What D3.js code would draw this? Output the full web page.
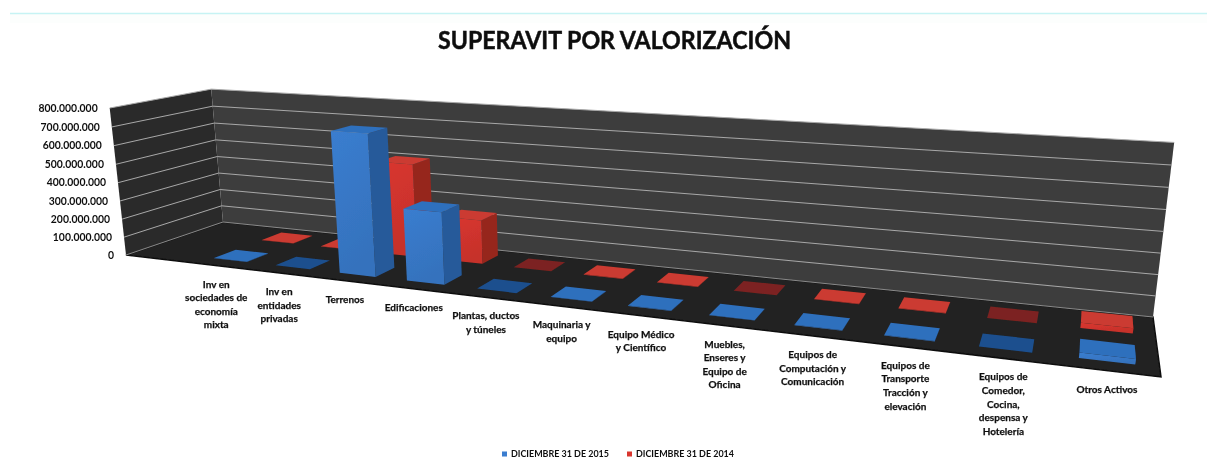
<!DOCTYPE html>
<html><head><meta charset="utf-8">
<script src="https://cdn.jsdelivr.net/npm/d3@7/dist/d3.min.js"></script>
<style>html,body{margin:0;padding:0;background:#fff}svg{display:block}text{font-family:Lato,"Open Sans",sans-serif;fill:#111}</style>
</head><body><svg id="c" width="1207" height="466"></svg>
<script>
const categories = [
 ["Inv en","sociedades de","economía","mixta"],
 ["Inv en","entidades","privadas"],
 ["Terrenos"],
 ["Edificaciones"],
 ["Plantas, ductos","y túneles"],
 ["Maquinaria y","equipo"],
 ["Equipo Médico","y Científico"],
 ["Muebles,","Enseres y","Equipo de","Oficina"],
 ["Equipos de","Computación y","Comunicación"],
 ["Equipos de","Transporte","Tracción y","elevación"],
 ["Equipos de","Comedor,","Cocina,","despensa y","Hotelería"],
 ["Otros Activos"]
];
const seriesNames = ["DICIEMBRE 31 DE 2015","DICIEMBRE 31 DE 2014"];
const values2015 = [2000000,0,735000000,370000000,0,2000000,2000000,2000000,2000000,2000000,0,24000000];
const values2014 = [2000000,2000000,505000000,235000000,0,2000000,2000000,0,2000000,2000000,0,24000000];
const tickValues = [0,100000000,200000000,300000000,400000000,500000000,600000000,700000000,800000000];
const titleText = "SUPERAVIT POR VALORIZACIÓN";

const palettes = [
 {front:"#3a7dcf",side:"#265a9a",top:"#2f6fbd",flat:"#1e4f8e"},
 {front:"#d9362f",side:"#96261f",top:"#cb3a30",flat:"#7c2120"}
];

// 3D frame: picture positions of the chart box corners
function solve(A,b){
  const n=b.length,M=A.map((r,i)=>[...r,b[i]]);
  for(let i=0;i<n;i++){
    let p=i;for(let r=i+1;r<n;r++)if(Math.abs(M[r][i])>Math.abs(M[p][i]))p=r;
    [M[i],M[p]]=[M[p],M[i]];
    for(let r=0;r<n;r++){if(r===i)continue;const f=M[r][i]/M[i][i];for(let c=i;c<=n;c++)M[r][c]-=f*M[i][c];}
  }
  return M.map((r,i)=>r[n]/r[i]);
}
const F={fl:[126,255],fr:[1161,377],br:[1153,317],bl:[223,222]};
const T={fl:[109,108],bl:[212,88],br:[1174,144]};
const sx=F.fl[0]-F.fr[0]+F.br[0]-F.bl[0], sy=F.fl[1]-F.fr[1]+F.br[1]-F.bl[1];
const dx1=F.fr[0]-F.br[0],dx2=F.bl[0]-F.br[0],dy1=F.fr[1]-F.br[1],dy2=F.bl[1]-F.br[1];
const det=dx1*dy2-dx2*dy1;
const g=(sx*dy2-dx2*sy)/det, hh=(dx1*sy-sx*dy1)/det;
const ax=[F.fl[0],F.fr[0]-F.fl[0]+g*F.fr[0],F.bl[0]-F.fl[0]+hh*F.bl[0]];
const ay=[F.fl[1],F.fr[1]-F.fl[1]+g*F.fr[1],F.bl[1]-F.fl[1]+hh*F.bl[1]];
const calib=[[0,0,T.fl],[0,1,T.bl],[1,1,T.br]];
const Rows=[],Rhs=[];
calib.forEach(([u,v,p])=>{
  const w=1+g*u+hh*v;
  Rows.push([1,0,-p[0]]);Rhs.push(p[0]*w-(ax[0]+ax[1]*u+ax[2]*v));
  Rows.push([0,1,-p[1]]);Rhs.push(p[1]*w-(ay[0]+ay[1]*u+ay[2]*v));
});
const AtA=[0,1,2].map(i=>[0,1,2].map(j=>d3.sum(Rows,r=>r[i]*r[j])));
const Atb=[0,1,2].map(i=>d3.sum(Rows,(r,k)=>r[i]*Rhs[k]));
const [Dx,Dy,K]=solve(AtA,Atb);
function proj(u,v,h){
  const w=1+g*u+hh*v+K*h;
  return [(ax[0]+ax[1]*u+ax[2]*v+Dx*h)/w,(ay[0]+ay[1]*u+ay[2]*v+Dy*h)/w];
}

const x=d3.scaleBand().domain(d3.range(categories.length)).range([0.078,1.0]).paddingInner(0.46).paddingOuter(0.23);
const z=d3.scaleBand().domain([0,1]).range([0,1.02]).paddingInner(0.56).paddingOuter(0.28);
const y=d3.scaleLinear().domain([0,800000000]).range([0,1]);
const line=d3.line();
const poly=pts=>line(pts)+"Z";

const svg=d3.select("#c");
const defs=svg.append("defs");
defs.append("filter").attr("id","soft").attr("x","-2%").attr("y","-5%").attr("width","104%").attr("height","110%")
  .append("feGaussianBlur").attr("stdDeviation",0.6);
defs.append("filter").attr("id","softT").attr("x","-5%").attr("y","-20%").attr("width","110%").attr("height","140%")
  .append("feGaussianBlur").attr("stdDeviation",0.4);
const gf=defs.selectAll("linearGradient").data(palettes).join("linearGradient").attr("id",(d,i)=>"gf"+i).attr("x1",0).attr("x2",0.3).attr("y1",0).attr("y2",1);
gf.append("stop").attr("offset",0).attr("stop-color",d=>d.front);
gf.append("stop").attr("offset",1).attr("stop-color",d=>d3.color(d.front).darker(0.25));

svg.append("rect").attr("x",10).attr("y",14).attr("width",1197).attr("height",9).attr("fill","#fcfefd");
svg.append("line").attr("x1",10).attr("x2",1207).attr("y1",13.5).attr("y2",13.5).attr("stroke","#c6f3f4").attr("stroke-width",1.5);

const chart=svg.append("g").attr("filter","url(#soft)");
// floor and walls
chart.append("path").attr("d",poly([proj(0,0,0),proj(1,0,0),proj(1,1,0),proj(0,1,0)])).attr("fill","#212121").attr("stroke","#111").attr("stroke-width",1.5);
chart.append("path").attr("d",poly([proj(0,0,0),proj(0,1,0),proj(0,1,1),proj(0,0,1)])).attr("fill","#2b2b2b");
chart.append("path").attr("d",poly([proj(0,1,0),proj(1,1,0),proj(1,1,1),proj(0,1,1)])).attr("fill","#3e3e3e");
// gridlines
chart.append("g").selectAll("path").data(tickValues).join("path")
  .attr("d",t=>line([proj(0,0,y(t)),proj(0,1,y(t)),proj(1,1,y(t))]))
  .attr("fill","none").attr("stroke",t=>t===0?"#8a8a8a":"#a8a8a8").attr("stroke-width",1);

// bars: back row first, left to right
const bars=[];
[1,0].forEach(s=>{
  (s===0?values2015:values2014).forEach((val,i)=>bars.push({s,i,val}));
});
chart.append("g").selectAll("g").data(bars).join("g").each(function(d){
  const u0=x(d.i),u1=u0+x.bandwidth(),v0=z(d.s),v1=v0+z.bandwidth(),h=y(d.val),c=palettes[d.s],n=d3.select(this);
  if(d.val>0){
    n.append("path").attr("d",poly([proj(u1,v0,0),proj(u1,v1,0),proj(u1,v1,h),proj(u1,v0,h)])).attr("fill",c.side);
    n.append("path").attr("d",poly([proj(u0,v0,0),proj(u1,v0,0),proj(u1,v0,h),proj(u0,v0,h)])).attr("fill",`url(#gf${d.s})`);
  }
  n.append("path").attr("d",poly([proj(u0,v0,h),proj(u1,v0,h),proj(u1,v1,h),proj(u0,v1,h)])).attr("fill",d.val>0?c.top:c.flat);
});

const txt=svg.append("g").attr("filter","url(#softT)");
const heavy=s=>s.attr("stroke","#111").attr("stroke-width",0.25);
// value axis labels
txt.append("g").selectAll("text").data(tickValues).join("text")
  .attr("x",t=>proj(0,0,y(t))[0]-12)
  .attr("y",t=>proj(0,0,y(t))[1])
  .attr("dy","0.35em").attr("text-anchor","end").attr("font-size",10.4).attr("font-weight",700)
  .text(t=>d3.format(",")(t).replace(/,/g,"."));
// category labels
txt.append("g").selectAll("text").data(categories).join("text").each(function(lines,i){
  const p=proj(x(i)+x.bandwidth()/2,0,0),n=d3.select(this);
  n.attr("text-anchor","middle").attr("font-size",10).attr("font-weight",700).call(heavy);
  lines.forEach((l,k)=>n.append("tspan").attr("x",p[0]).attr("y",p[1]+22+k*13.6).text(l));
});
// title
txt.append("text").attr("x",614.5).attr("y",49).attr("text-anchor","middle").attr("font-size",24.5).attr("font-weight",700).attr("textLength",353).attr("lengthAdjust","spacingAndGlyphs").attr("stroke","#111").attr("stroke-width",0.5).text(titleText);
// legend
const legendX=[502,627];
const lg=txt.append("g").selectAll("g").data(seriesNames).join("g").attr("transform",(d,i)=>`translate(${legendX[i]},454)`);
lg.append("rect").attr("y",-2.5).attr("width",5).attr("height",5).attr("fill",(d,i)=>palettes[i].front);
lg.append("text").attr("x",9).attr("dy","0.35em").attr("font-size",8.6).attr("font-weight",700).attr("fill","#333").attr("textLength",98).attr("lengthAdjust","spacingAndGlyphs").text(d=>d);
</script></body></html>
